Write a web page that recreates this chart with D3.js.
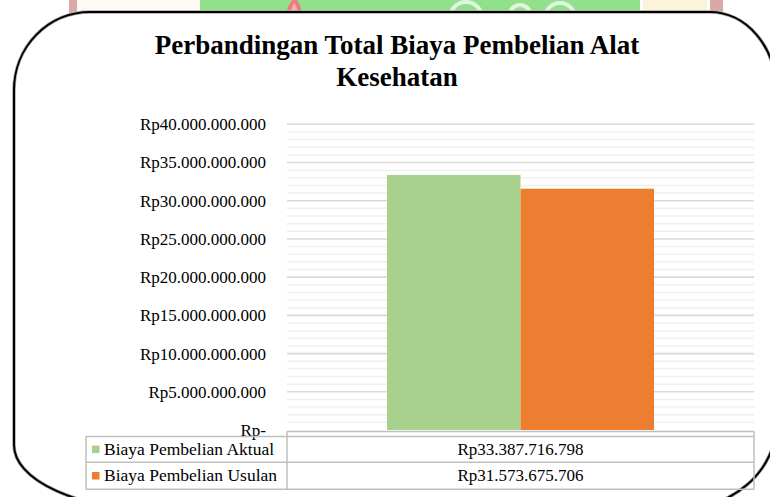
<!DOCTYPE html>
<html>
<head>
<meta charset="utf-8">
<script src="https://cdn.jsdelivr.net/npm/d3@7"></script>
<style>
  html, body { margin: 0; padding: 0; background: #ffffff; }
  svg { display: block; }
  svg text { font-family: "Liberation Serif", "Tinos", "Times New Roman", "DejaVu Serif", serif; fill: #000; }
</style>
</head>
<body>
<svg id="chart" width="770" height="497"></svg>
<script>
// Chart data
const titleLines = ["Perbandingan Total Biaya Pembelian Alat", "Kesehatan"];
const groupName = ["Total"];
const categories = ["Biaya Pembelian Aktual", "Biaya Pembelian Usulan"];
const values = [33387716798, 31573675706];
const valueLabels = ["Rp33.387.716.798", "Rp31.573.675.706"];
const colors = ["#a9d18e", "#ed7d31"];
const yTicks = [0, 5e9, 10e9, 15e9, 20e9, 25e9, 30e9, 35e9, 40e9];
const yTickLabels = ["Rp-", "Rp5.000.000.000", "Rp10.000.000.000", "Rp15.000.000.000",
  "Rp20.000.000.000", "Rp25.000.000.000", "Rp30.000.000.000", "Rp35.000.000.000",
  "Rp40.000.000.000"];
const minorStep = 1e9;

const serif = "'Liberation Serif', 'Tinos', 'Times New Roman', 'DejaVu Serif', serif";
const svg = d3.select("#chart");

// Decorative backdrop strip peeking above the frame
const deco = svg.append("g");
const stripH = 14;
deco.append("rect").attr("x", 77).attr("y", 0).attr("width", 123).attr("height", stripH).attr("fill", "#fdfbf4");
deco.append("rect").attr("x", 69).attr("y", 0).attr("width", 8).attr("height", stripH).attr("fill", "#d9aaa6");
deco.append("rect").attr("x", 200).attr("y", 0).attr("width", 440).attr("height", stripH).attr("fill", "#92e08c");
deco.append("path").attr("d", "M286,14 Q289,2 293,0 L297,0 Q301,6 302,14 Z").attr("fill", "#ef7c7c");
deco.append("path").attr("d", "M290,14 Q292,6 294,3 Q297,6 298,14 Z").attr("fill", "#f6b0b0");
[[466, 18, 16], [520, 16, 11], [560, 18, 15]].forEach(([cx, cy, r]) => {
  deco.append("circle").attr("cx", cx).attr("cy", cy).attr("r", r)
    .attr("fill", "none").attr("stroke", "#dff5dc").attr("stroke-width", 4);
});
deco.append("rect").attr("x", 643).attr("y", 0).attr("width", 64).attr("height", stripH).attr("fill", "#fdf3d9");
deco.append("rect").attr("x", 710).attr("y", 0).attr("width", 13).attr("height", stripH).attr("fill", "#dba7a7");

// Rounded frame around the chart
const framePath = "M90,12 L710,12 A66,78 0 0 1 776,90 L776,425 A100,85 0 0 1 676,510 " +
  "L159,510 A145,65 0 0 1 14,445 L14,90 A76,78 0 0 1 90,12 Z";
svg.append("path").attr("d", framePath).attr("fill", "#ffffff")
  .attr("stroke", "#a8a8a8").attr("stroke-width", 3.5);
svg.append("path").attr("d", framePath).attr("fill", "none")
  .attr("stroke", "#000000").attr("stroke-width", 2);

// Title
const title = svg.append("text")
  .attr("text-anchor", "middle")
  .style("font-family", serif)
  .style("font-size", "27px").style("font-weight", "bold");
title.selectAll("tspan").data(titleLines).join("tspan")
  .attr("x", 397).attr("y", (d, i) => 54 + i * 32).text(d => d);

// Scales
const plot = { left: 287, right: 754, top: 124.3, bottom: 430 };
const y = d3.scaleLinear().domain([0, 40e9]).range([plot.bottom, plot.top]);
const xGroup = d3.scaleBand().domain(groupName).range([plot.left, plot.right])
  .paddingInner(0).paddingOuter(0.3745);
const xSeries = d3.scaleBand().domain(categories).range([0, xGroup.bandwidth()]);

// Minor gridlines
const minorTicks = d3.range(minorStep, 40e9, minorStep).filter(v => v % 5e9 !== 0);
svg.append("g").selectAll("line").data(minorTicks).join("line")
  .attr("x1", plot.left).attr("x2", plot.right)
  .attr("y1", d => y(d)).attr("y2", d => y(d))
  .attr("stroke", "#f0f0f0").attr("stroke-width", 1.5);

// Major gridlines
svg.append("g").selectAll("line").data(yTicks.filter(v => v > 0)).join("line")
  .attr("x1", plot.left).attr("x2", plot.right)
  .attr("y1", d => y(d)).attr("y2", d => y(d))
  .attr("stroke", "#d9d9d9").attr("stroke-width", 1.6);

// Y axis labels
const yAxis = d3.axisLeft(y).tickValues(yTicks)
  .tickFormat((d, i) => yTickLabels[i]).tickSize(0).tickPadding(21);
const gY = svg.append("g").attr("transform", `translate(${plot.left},0)`).call(yAxis);
gY.attr("font-family", null).attr("font-size", null);
gY.select(".domain").remove();
gY.selectAll("text").style("font-family", serif)
  .style("font-size", "17px").attr("fill", "#000");

// Bars
svg.append("g").selectAll("rect").data(values).join("rect")
  .attr("x", (d, i) => xGroup("Total") + xSeries(categories[i]))
  .attr("width", xSeries.bandwidth())
  .attr("y", d => y(d))
  .attr("height", d => y(0) - y(d))
  .attr("fill", (d, i) => colors[i]);

// Data table under the plot
const table = { left: 86, split: plot.left, right: plot.right, axis: y(0) + 1.5,
  rows: [436.5, 462.3, 489.3] };
const tg = svg.append("g").attr("stroke", "#bfbfbf").attr("stroke-width", 1.5);
tg.append("line").attr("x1", table.split).attr("x2", table.right)
  .attr("y1", table.axis).attr("y2", table.axis);
table.rows.forEach(r => {
  tg.append("line").attr("x1", table.left).attr("x2", table.right).attr("y1", r).attr("y2", r);
});
tg.append("line").attr("x1", table.left).attr("x2", table.left)
  .attr("y1", table.rows[0]).attr("y2", table.rows[2]);
[table.split, table.right].forEach(xv => {
  tg.append("line").attr("x1", xv).attr("x2", xv).attr("y1", table.axis).attr("y2", table.rows[2]);
});

categories.forEach((c, i) => {
  const top = table.rows[i], bot = table.rows[i + 1], mid = (top + bot) / 2;
  svg.append("rect").attr("x", 92).attr("y", mid - 3.8).attr("width", 7.5).attr("height", 7.5)
    .attr("fill", colors[i]);
  svg.append("text").attr("x", 104).attr("y", mid + 5.6)
    .style("font-family", serif)
    .style("font-size", "17.5px").text(c);
  svg.append("text").attr("x", (table.split + table.right) / 2).attr("y", mid + 5.6)
    .attr("text-anchor", "middle")
    .style("font-family", serif)
    .style("font-size", "17px").text(valueLabels[i]);
});
</script>
</body>
</html>
